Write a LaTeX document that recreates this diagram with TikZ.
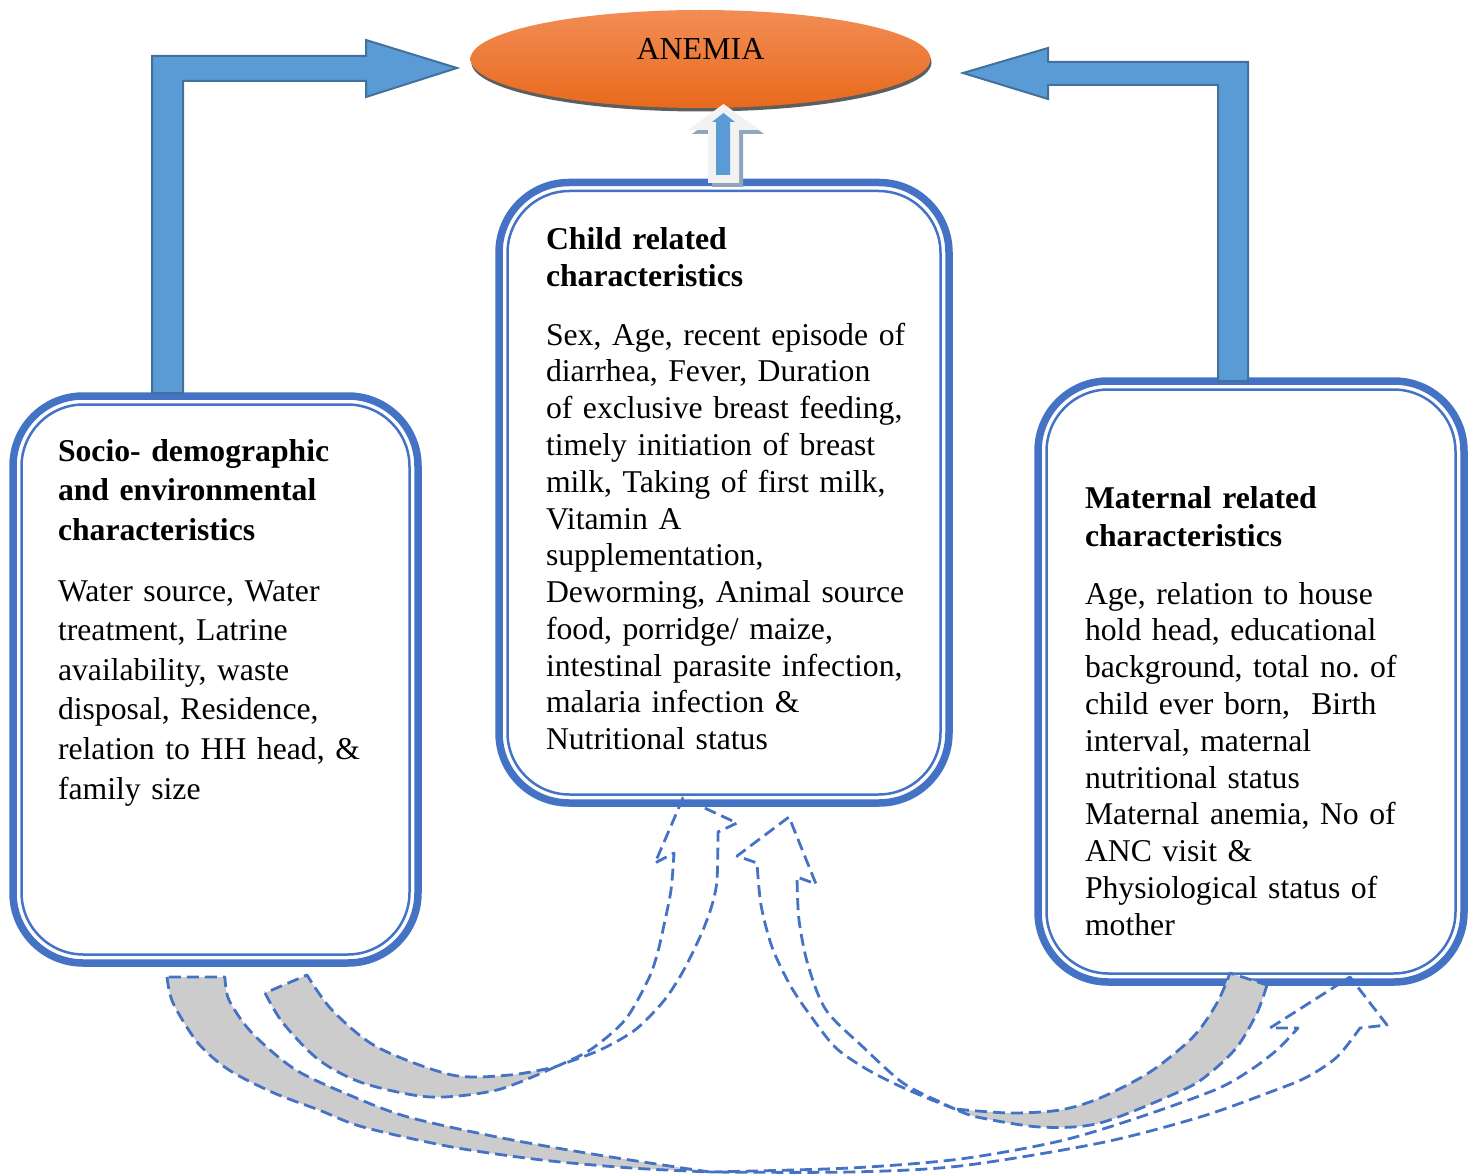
\documentclass[tikz,border=0pt]{standalone}
\usepackage{fontspec}
\setmainfont{Liberation Serif}[WordSpace=0.65]
\usetikzlibrary{shapes.geometric}
\definecolor{boxblue}{HTML}{4472C4}
\definecolor{arrfill}{HTML}{5B9BD5}
\definecolor{arrline}{HTML}{41719C}
\definecolor{bandgray}{HTML}{CCCCCC}
\definecolor{orangeT}{HTML}{F28D55}
\definecolor{orangeB}{HTML}{E8691C}
\definecolor{shadowgray}{HTML}{5E5E5E}
\definecolor{upshadow}{HTML}{8FA6BD}
\definecolor{uplight}{HTML}{F2F2F2}
\begin{document}
\frenchspacing
\begin{tikzpicture}[x=1pt,y=-1pt,
  box/.style={rectangle, draw=boxblue, line width=7.5pt, rounded corners=70pt, inner sep=0pt, outer sep=0pt},
  innerline/.style={draw=boxblue, line width=2.5pt, rounded corners=62pt},
  headtxt/.style={anchor=base west, inner sep=0pt, outer sep=0pt, text width=420pt, align=left, font=\fontsize{31.7}{38}\selectfont\bfseries},
  bodytxt/.style={anchor=base west, inner sep=0pt, outer sep=0pt, text width=420pt, align=left, font=\fontsize{31.7}{36.8}\selectfont},
  blockarrow/.style={fill=arrfill, draw=arrline, line width=2pt, line join=miter},
  dashline/.style={draw=boxblue, line width=2.8pt, dash pattern=on 12pt off 6pt, line join=round},
  bandfill/.style={fill=bandgray}
]
\useasboundingbox (0,0) rectangle (1478,1174);

% ---------- ANEMIA ellipse ----------
\fill[shadowgray] (701.5,62.5) ellipse [x radius=230pt, y radius=49pt];
\node[ellipse, minimum width=460pt, minimum height=98pt, inner sep=0pt, outer sep=0pt,
      top color=orangeT, bottom color=orangeB, draw=none] (anemia) at (700.5,59) {};
\node[anchor=base, inner sep=0pt, font=\fontsize{32}{36}\selectfont] (anemiatxt) at (700.5,60) {ANEMIA};

% ---------- boxes ----------
\node[box, minimum width=405pt, minimum height=567pt] (socio) at (215.5,679.5) {};
\draw[innerline] ([xshift=8.5pt,yshift=-8.5pt]socio.north west) rectangle ([xshift=-8.5pt,yshift=8.5pt]socio.south east);

\node[box, minimum width=450pt, minimum height=620.5pt] (child) at (724,492.75) {};
\draw[innerline] ([xshift=8.5pt,yshift=-8.5pt]child.north west) rectangle ([xshift=-8.5pt,yshift=8.5pt]child.south east);

\node[box, minimum width=426pt, minimum height=601pt] (maternal) at (1251,681.5) {};
\draw[innerline] ([xshift=8.5pt,yshift=-8.5pt]maternal.north west) rectangle ([xshift=-8.5pt,yshift=8.5pt]maternal.south east);

% ---------- texts ----------
\node[headtxt, font=\fontsize{31.7}{39.5}\selectfont\bfseries] (sociohead) at (58,461) {Socio- demographic\\and environmental\\characteristics};
\node[bodytxt, font=\fontsize{31.7}{39.6}\selectfont] (sociobody) at (58,601) {Water source, Water\\treatment, Latrine\\availability, waste\\disposal, Residence,\\relation to HH head, \&\\family size};

\node[headtxt, font=\fontsize{31.7}{37}\selectfont\bfseries] (childhead) at (546,250) {Child related\\characteristics};
\node[bodytxt] (childbody) at (546,345) {Sex, Age, recent episode of\\diarrhea, Fever, Duration\\of exclusive breast feeding,\\timely initiation of breast\\milk, Taking of first milk,\\Vitamin A\\supplementation,\\Deworming, Animal source\\food, porridge/ maize,\\intestinal parasite infection,\\malaria infection \&\\Nutritional status};

\node[headtxt] (mathead) at (1085,508) {Maternal related\\characteristics};
\node[bodytxt] (matbody) at (1085,604) {Age, relation to house\\hold head, educational\\background, total no. of\\child ever born, \ Birth\\interval, maternal\\nutritional status\\Maternal anemia, No of\\ANC visit \&\\Physiological status of\\mother};

% ---------- L-shaped block arrows ----------
\path[blockarrow] (152,393) -- (152,56) -- (366,56) -- (366,40) -- (457,68) -- (366,97) -- (366,81) -- (183,81) -- (183,393) -- cycle;
\path[blockarrow] (1248,381) -- (1248,62) -- (1048,62) -- (1048,48) -- (963,73) -- (1048,99) -- (1048,85) -- (1218,85) -- (1218,381) -- cycle;

% ---------- small up arrow child -> anemia ----------
\fill[upshadow] (712,187) -- (712,134) -- (692,134) -- (727.5,108) -- (764,134) -- (743,134) -- (743,187) -- cycle;
\fill[uplight] (708,183) -- (708,130) -- (688,130) -- (723.5,104) -- (760,130) -- (739,130) -- (739,183) -- cycle;
\fill[arrfill] (716,175) -- (716,122) -- (712,122) -- (723.5,113) -- (735,122) -- (730,122) -- (730,175) -- cycle;

% ---------- curved arrow A: socio -> child ----------
\path[bandfill, dashline] plot[smooth] coordinates {(265,993) (283,1023) (319,1060) (363,1083) (430,1097) (497,1090) (555,1067)}
  -- plot[smooth] coordinates {(555,1067) (510,1075) (452,1075) (377,1047) (332,1010) (307,975)} -- cycle;
\draw[dashline] plot[smooth] coordinates {(555,1067) (590,1050) (625,1020) (648,980) (657,955) (664,925) (671,890) (674,853)}
  -- (655,863) -- (683,798) -- (737,823) -- (718,832)
  -- plot[smooth] coordinates {(718,832) (717,880) (712,905) (703,930) (690,958) (678,980) (662,1003) (635,1030) (600,1050) (560,1065) (555,1067)};

% ---------- curved arrow B: socio -> maternal ----------
\path[bandfill, dashline] plot[smooth] coordinates {(167,977) (173,1003) (198,1043) (229,1070) (274,1093) (319,1110) (363,1127) (452,1147) (542,1160) (631,1168) (710,1172)}
  -- plot[smooth] coordinates {(710,1172) (676,1167) (586,1153) (497,1137) (408,1117) (354,1097) (296,1070) (252,1033) (229,1000) (225,977)} -- cycle;
\draw[dashline] plot[smooth] coordinates {(710,1172) (850,1168) (960,1159) (1060,1141) (1140,1117) (1217,1089) (1252,1069) (1278,1049) (1298,1028)}
  -- (1270,1028) -- (1350,977) -- (1387,1025) -- (1360,1028)
  -- plot[smooth] coordinates {(1360,1028) (1337,1057) (1307,1077) (1273,1091) (1200,1117) (1100,1143) (960,1166) (850,1172) (710,1172)};

% ---------- curved arrow C: maternal -> child ----------
\path[bandfill, dashline] plot[smooth] coordinates {(1267,985) (1257,1013) (1237,1047) (1210,1073) (1183,1090) (1100,1123) (1040,1127) (977,1117) (955,1109)}
  -- plot[smooth] coordinates {(955,1109) (1010,1113) (1060,1110) (1100,1098) (1150,1072) (1193,1037) (1217,1003) (1230,973)} -- cycle;
\draw[dashline] plot[smooth] coordinates {(955,1109) (927,1098) (893,1083) (863,1067) (835,1047) (810,1015) (790,985) (772,947) (761,905) (757,863)}
  -- (737,856) -- (789,817) -- (816,884) -- (797,877)
  -- plot[smooth] coordinates {(797,877) (799,920) (808,965) (826,1010) (863,1047) (903,1083) (940,1102) (955,1109)};
\end{tikzpicture}
\end{document}
